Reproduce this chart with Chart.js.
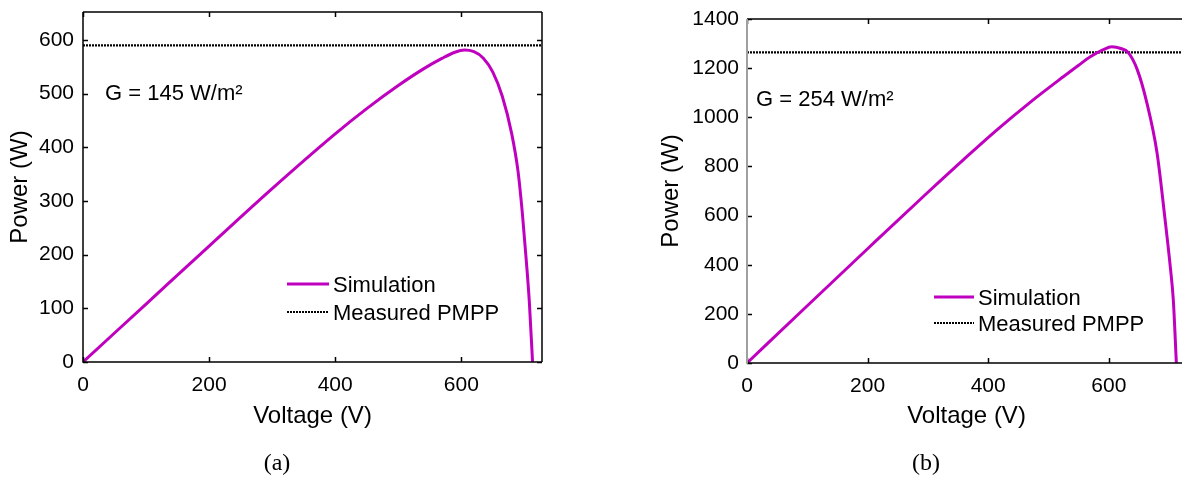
<!DOCTYPE html>
<html>
<head>
<meta charset="utf-8">
<title>PV power curves</title>
<script src="https://cdn.jsdelivr.net/npm/chart.js@4.4.1/dist/chart.umd.min.js"></script>
<style>
  html, body { margin: 0; padding: 0; background: #fff; overflow: hidden; }
  body { width: 1182px; height: 478px; position: relative; }
  .panel { position: absolute; top: 0; height: 478px; }
  #panelA { left: 0; width: 570px; }
  #panelB { left: 640px; width: 560px; }
  .caption { position: absolute; top: 449px; font: 24px "Liberation Serif", "Times New Roman", serif; transform: translateX(-50%); color: #000; }
</style>
</head>
<body>
<div class="panel" id="panelA"><canvas id="chartA"></canvas></div>
<div class="panel" id="panelB"><canvas id="chartB"></canvas></div>
<div class="caption" style="left:277px">(a)</div>
<div class="caption" style="left:926px">(b)</div>

<script>
// Panel (a): G = 145 W/m2
const voltA = [0, 100, 200, 300, 400, 450, 500, 540, 570, 590, 605, 620, 635, 650, 665, 680, 690, 697, 703, 708, 713];
const powerA = [0, 108, 216, 323, 425, 472, 515, 546, 566, 577, 581, 578, 566, 540, 495, 425, 355, 275, 190, 110, 0];
const measuredA = 590;
const yTicksA = [0, 100, 200, 300, 400, 500, 600];

// Panel (b): G = 254 W/m2
const voltB = [0, 100, 200, 300, 360, 415, 470, 525, 550, 570, 590, 605, 620, 632, 647, 663, 680, 693, 702, 707, 712];
const powerB = [0, 233, 465, 695, 830, 950, 1062, 1166, 1212, 1247, 1274, 1287, 1280, 1264, 1195, 1060, 855, 590, 390, 255, 0];
const measuredB = 1264;
const yTicksB = [0, 200, 400, 600, 800, 1000, 1200, 1400];

const xTicks = [0, 200, 400, 600];
const xMax = 728;

const FONT = '"Liberation Sans", Arial, sans-serif';
const MAGENTA = '#BF00BF';

// Inward ticks and box around the plot area
const boxFrame = {
    id: 'boxFrame',
    afterDraw(chart, args, opts) {
        const { ctx, chartArea: a, scales } = chart;
        const len = 5;
        ctx.save();
        ctx.lineWidth = 1.5;
        ctx.strokeStyle = '#000';
        ctx.beginPath();
        scales.x.ticks.forEach(t => {
            const px = Math.round(scales.x.getPixelForValue(t.value)) + 0.5;
            ctx.moveTo(px, a.bottom); ctx.lineTo(px, a.bottom - len);
            ctx.moveTo(px, a.top); ctx.lineTo(px, a.top + len);
        });
        scales.y.ticks.forEach(t => {
            const py = Math.round(scales.y.getPixelForValue(t.value)) + 0.5;
            ctx.moveTo(a.left, py); ctx.lineTo(a.left + len, py);
            if (opts.right) { ctx.moveTo(a.right, py); ctx.lineTo(a.right - len, py); }
        });
        ctx.moveTo(a.left, a.bottom); ctx.lineTo(a.right, a.bottom);
        ctx.moveTo(a.left, a.top); ctx.lineTo(a.right, a.top);
        if (opts.right) { ctx.moveTo(a.right, a.top); ctx.lineTo(a.right, a.bottom); }
        ctx.stroke();
        // left edge
        ctx.beginPath();
        ctx.strokeStyle = opts.leftColor || '#000';
        ctx.lineWidth = opts.leftWidth || 1.5;
        ctx.moveTo(a.left, a.top); ctx.lineTo(a.left, a.bottom + 0.75);
        ctx.stroke();
        ctx.restore();
    }
};

// Legend and irradiance note drawn inside the plot
const insideLegend = {
    id: 'insideLegend',
    afterDraw(chart, args, o) {
        const ctx = chart.ctx;
        ctx.save();
        ctx.font = '22px ' + FONT;
        ctx.textBaseline = 'middle';
        ctx.fillStyle = '#000';
        chart.data.datasets.forEach((ds, i) => {
            const y = o.y + i * o.rowGap;
            ctx.beginPath();
            ctx.strokeStyle = ds.borderColor;
            ctx.lineWidth = ds.borderWidth;
            ctx.setLineDash(ds.borderDash || []);
            ctx.moveTo(o.x, y);
            ctx.lineTo(o.x + o.sample, y);
            ctx.stroke();
            ctx.setLineDash([]);
            ctx.fillText(ds.label, o.x + o.sample + 4, y + 1.5);
        });
        ctx.fillText(o.note, o.noteX, o.noteY);
        ctx.restore();
    }
};

function makeChart(id, volts, powers, measured, yTicks, yMax, box) {
    const curve = volts.map((v, i) => ({ x: v, y: powers[i] }));
    const flat = [{ x: 0, y: measured }, { x: xMax, y: measured }];
    const tickFont = { family: FONT, size: 21, lineHeight: 1.2 };
    const titleFont = { family: FONT, size: 24, lineHeight: 1.2 };
    return new Chart(document.getElementById(id), {
        type: 'line',
        data: {
            datasets: [{
                label: 'Simulation',
                data: curve,
                borderColor: MAGENTA,
                borderWidth: 3,
                pointRadius: 0,
                cubicInterpolationMode: 'monotone'
            }, {
                label: 'Measured PMPP',
                data: flat,
                borderColor: '#000',
                borderWidth: 2.2,
                borderDash: [2, 1],
                pointRadius: 0
            }]
        },
        options: {
            responsive: true,
            maintainAspectRatio: false,
            animation: false,
            layout: { padding: { top: box.top, right: box.right, bottom: 0, left: 0 } },
            plugins: {
                legend: { display: false },
                tooltip: { enabled: false },
                boxFrame: { leftColor: box.leftColor, leftWidth: box.leftWidth, right: box.rightFrame },
                insideLegend: box.legend
            },
            scales: {
                x: {
                    type: 'linear',
                    min: 0,
                    max: xMax,
                    afterBuildTicks: s => { s.ticks = xTicks.map(v => ({ value: v })); },
                    afterFit: s => { s.height = box.xHeight; s.paddingLeft = 0; s.paddingRight = 0; },
                    grid: { display: false, drawTicks: false },
                    border: { display: false },
                    ticks: { font: tickFont, color: '#000', padding: 11, maxRotation: 0, callback: v => String(v) },
                    title: {
                        display: true, text: 'Voltage (V)', color: '#000', font: titleFont,
                        padding: { top: 0, bottom: 47.6 }
                    }
                },
                y: {
                    type: 'linear',
                    min: 0,
                    max: yMax,
                    afterBuildTicks: s => { s.ticks = yTicks.map(v => ({ value: v })); },
                    afterFit: s => { s.width = box.yWidth; s.paddingTop = 0; s.paddingBottom = 0; },
                    grid: { display: false, drawTicks: false },
                    border: { display: false },
                    ticks: { font: tickFont, color: '#000', padding: box.yPad, callback: v => String(v) },
                    title: {
                        display: true, text: 'Power (W)', color: '#000', font: titleFont,
                        padding: { top: box.yTitlePad, bottom: 0 }
                    }
                }
            }
        },
        plugins: [boxFrame, insideLegend]
    });
}

makeChart('chartA', voltA, powerA, measuredA, yTicksA, 652, {
    top: 12, right: 28, xHeight: 116, yWidth: 83, yPad: 9, yTitlePad: 6.4,
    leftColor: '#000', leftWidth: 1.5, rightFrame: true,
    legend: { x: 287, y: 284, rowGap: 28, sample: 42, note: 'G = 145 W/m²', noteX: 105, noteY: 94 }
});

makeChart('chartB', voltB, powerB, measuredB, yTicksB, 1400, {
    top: 19, right: 14, xHeight: 115, yWidth: 107, yPad: 8, yTitlePad: 17.3,
    leftColor: '#a0a0a0', leftWidth: 2, rightFrame: false,
    legend: { x: 294, y: 297, rowGap: 26, sample: 40, note: 'G = 254 W/m²', noteX: 116, noteY: 100 }
});
</script>
</body>
</html>
